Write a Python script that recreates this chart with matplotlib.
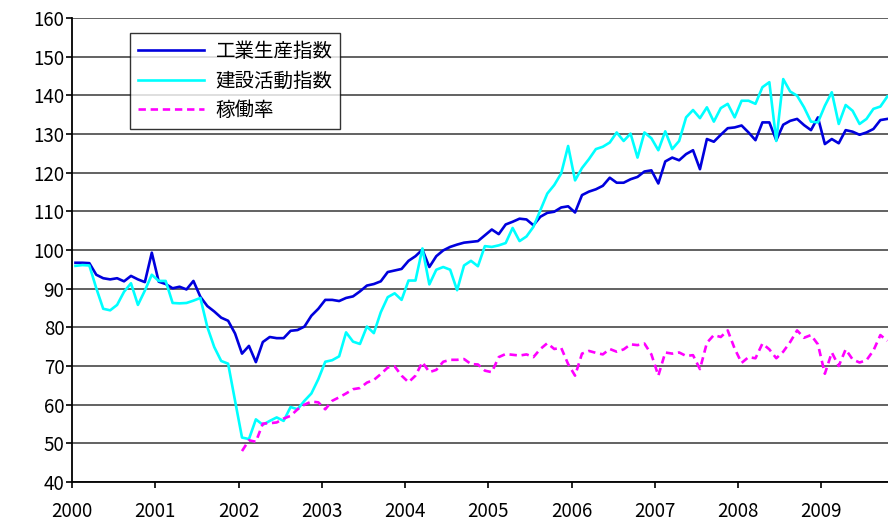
#!/usr/bin/env python3
import matplotlib
matplotlib.use("Agg")
import matplotlib.pyplot as plt
import numpy as np

plt.rcParams['font.family'] = ['Noto Sans CJK JP', 'DejaVu Sans']

# monthly data, 2000-01 .. 2009-10
start_year = 2000
years = list(range(2000, 2010))

industrial = [
    96.7, 96.7, 96.6, 93.6, 92.7, 92.4, 92.7, 91.9, 93.3, 92.4, 91.7, 99.3,
    91.8, 91.2, 90.1, 90.5, 89.8, 92.0, 87.9, 85.5, 84.1, 82.5, 81.7, 78.4,
    73.2, 75.2, 71.0, 76.2, 77.5, 77.2, 77.2, 79.1, 79.3, 80.2, 83.0, 84.8,
    87.1, 87.1, 86.8, 87.6, 88.0, 89.3, 90.8, 91.2, 91.9, 94.3, 94.7, 95.1,
    97.2, 98.4, 100.1, 95.6, 98.4, 99.9, 100.8, 101.4, 101.9, 102.1, 102.3, 103.8,
    105.3, 104.1, 106.6, 107.3, 108.1, 107.9, 106.4, 108.6, 109.6, 109.9, 111.0, 111.3,
    109.7, 114.2, 115.1, 115.7, 116.6, 118.7, 117.4, 117.4, 118.3, 118.9, 120.3, 120.6,
    117.2, 122.9, 123.9, 123.2, 124.8, 125.8, 120.9, 128.7, 128.0, 129.8, 131.5, 131.7,
    132.2, 130.4, 128.4, 133.0, 133.0, 128.4, 132.4, 133.4, 133.9, 132.3, 131.0, 134.3,
    127.4, 128.7, 127.6, 131.0, 130.6, 129.8, 130.4, 131.3, 133.6, 133.9,
]

construction = [
    95.9, 96.1, 96.0, 90.1, 84.8, 84.4, 85.8, 89.2, 91.4, 85.8, 89.5, 93.6,
    92.0, 92.0, 86.3, 86.2, 86.3, 86.9, 87.6, 80.1, 74.9, 71.3, 70.6, 61.0,
    51.5, 51.1, 56.2, 54.8, 55.8, 56.7, 55.8, 59.4, 58.8, 61.0, 62.9, 66.6,
    71.1, 71.5, 72.5, 78.7, 76.3, 75.7, 80.2, 78.5, 83.9, 87.8, 88.8, 87.1,
    92.1, 92.1, 100.4, 91.1, 94.9, 95.6, 94.9, 89.6, 96.0, 97.2, 95.8, 101.0,
    100.8, 101.2, 101.8, 105.7, 102.3, 103.5, 106.0, 110.3, 114.6, 116.8, 119.8, 126.9,
    118.0, 121.2, 123.5, 126.1, 126.7, 127.8, 130.4, 128.2, 130.1, 123.9, 130.4, 128.9,
    125.8, 130.7, 126.1, 128.2, 134.3, 136.2, 134.1, 136.9, 133.2, 136.7, 137.8, 134.3,
    138.6, 138.6, 137.8, 142.1, 143.4, 128.2, 144.2, 141.0, 139.9, 136.9, 133.2, 133.0,
    137.3, 140.8, 132.6, 137.5, 136.0, 132.6, 133.9, 136.5, 137.1, 139.7,
]

# operating rate starts 2002-01
utilization_start = 24
utilization = [
    48.0, 50.8, 50.4, 55.1, 55.2, 55.4, 56.4, 57.1, 58.8, 60.0, 60.8, 60.6,
    58.8, 61.0, 61.9, 62.9, 64.0, 64.3, 65.7, 66.4, 67.9, 69.6, 69.9, 67.5,
    65.8, 67.5, 71.0, 68.4, 69.0, 71.1, 71.6, 71.6, 71.8, 70.5, 70.4, 68.8,
    68.4, 72.3, 73.1, 72.9, 72.7, 73.0, 72.3, 74.4, 75.9, 74.4, 74.7, 70.5,
    67.5, 73.2, 73.9, 73.4, 73.0, 74.4, 73.7, 74.3, 75.6, 75.4, 75.8, 73.0,
    67.5, 73.5, 73.2, 73.5, 72.6, 72.8, 69.2, 76.0, 78.0, 77.5, 79.2, 74.5,
    70.8, 72.3, 72.0, 75.8, 74.3, 72.0, 73.7, 76.2, 79.2, 77.3, 78.0, 75.6,
    68.0, 73.5, 70.0, 74.3, 71.7, 70.9, 71.5, 74.0, 78.0, 76.5,
]

labels = ['工業生産指数', '建設活動指数', '稼働率']


def month_x(n, offset=0):
    """x position (in years) of monthly points, centred in each month"""
    return start_year + (np.arange(n) + offset + 0.5) / 12.0


fig = plt.figure(figsize=(8.88, 5.26), dpi=100)
ax = fig.add_axes([72 / 888, 44 / 526, 816 / 888, 464 / 526])

ax.plot(month_x(len(industrial)), industrial, color='#0000dd', lw=1.9,
        label=labels[0], zorder=3)
ax.plot(month_x(len(construction)), construction, color='#00ffff', lw=1.9,
        label=labels[1], zorder=3)
ax.plot(month_x(len(utilization), utilization_start), utilization,
        color='#ff00ff', lw=1.9, ls=(0, (2.8, 1.8)), label=labels[2], zorder=3)

ax.set_xlim(2000, 2009.8)
ax.set_ylim(40, 160)
ax.set_yticks(np.arange(40, 161, 10))
ax.set_xticks(years)
ax.set_xticklabels([str(y) for y in years])

ax.grid(axis='y', color='#555555', lw=1.3)
ax.set_axisbelow(True)
for s in ['top', 'right']:
    ax.spines[s].set_visible(False)
for s in ['left', 'bottom']:
    ax.spines[s].set_color('black')
    ax.spines[s].set_linewidth(1.3)

ax.tick_params(axis='y', length=4, width=1.2, pad=1.5, labelsize=13.5)
ax.tick_params(axis='x', length=4, width=1.2, pad=10, labelsize=13.5)

leg = ax.legend(loc='upper left', bbox_to_anchor=(0.071, 0.968),
                fontsize=14, handlelength=3.4, frameon=True, fancybox=False,
                edgecolor='black', borderaxespad=0, labelspacing=0.45,
                borderpad=0.4, handletextpad=0.6)
leg.get_frame().set_linewidth(1.0)

fig.savefig('out.png', dpi=100)
